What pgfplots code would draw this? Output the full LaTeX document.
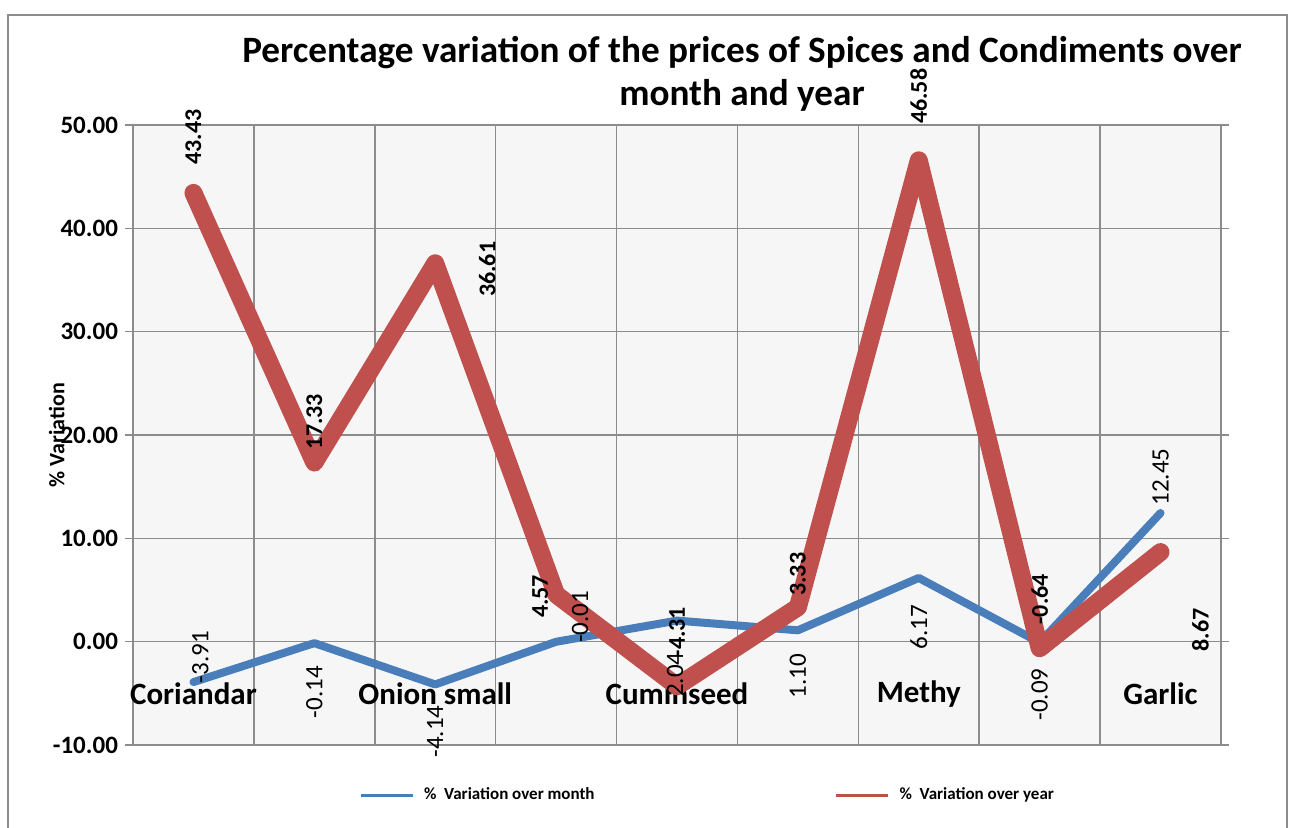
\documentclass[border=0pt]{standalone}
\usepackage{pgfplots}
\pgfplotsset{compat=1.18}
\usepackage{pgfplotstable}
\usepackage{fontspec}
\setmainfont{Carlito}
\definecolor{exblue}{HTML}{4A7EBB}
\definecolor{exred}{HTML}{C0504D}
\definecolor{gridgray}{HTML}{8C8C8C}

% dx, dy: offset of each value label from its point, in pt
\pgfplotstableread{
x y lab dx dy
0 -3.91 -3.91 3.5 12.5
1 -0.14 -0.14 0 -24.5
2 -4.14 -4.14 0 -23.5
3 -0.01 -0.01 12 12.5
4 2.04 2.04 -1 -27
5 1.10 1.10 0 -23
6 6.17 6.17 0 -24.5
7 -0.09 -0.09 0 -26
8 12.45 12.45 0 18
}\monthdata

\pgfplotstableread{
x y lab dx dy
0 43.43 43.43 0 28
1 17.33 17.33 0 20.5
2 36.61 36.61 26 -3
3 4.57 4.57 -8 -1
4 -4.31 -4.31 0 27
5 3.33 3.33 0 16.5
6 46.58 46.58 0 32
7 -0.64 -0.64 0 24.5
8 8.67 8.67 20 -39
}\yeardata

\begin{document}
\begin{tikzpicture}
\path[use as bounding box] (0,0) rectangle (645pt,413.5pt);
\fill[white] (0,0) rectangle (645pt,413.5pt);
\draw[gridgray, line width=0.8pt] (4pt,-10pt) rectangle (643.5pt,406pt);
\begin{axis}[
  at={(66.5pt,41pt)}, anchor=south west, scale only axis,
  width=544pt, height=310pt, clip=false,
  xmin=-0.5, xmax=8.5, ymin=-10, ymax=50,
  xtick={0,...,8},
  xticklabels={Coriandar,,Onion small,,Cuminseed,,Methy,,Garlic},
  minor xtick={-0.5,0.5,...,8.5},
  xminorgrids=true, xmajorgrids=false,
  ytick={-10,0,...,50}, ymajorgrids=true,
  grid style={gridgray, line width=0.75pt},
  minor grid style={gridgray, line width=0.75pt},
  axis line style={gridgray, line width=0.75pt},
  xtick style={draw=none},
  ytick style={gridgray, line width=0.75pt},
  tick align=outside, major tick length=4pt,
  axis background/.style={fill=gray!7},
  yticklabel={\pgfmathprintnumber[fixed,fixed zerofill,precision=2,assume math mode=true]{\tick}},
  yticklabel style={font=\bfseries\fontsize{12.5}{14}\selectfont},
  xticklabel style={font=\bfseries\fontsize{15.5}{18}\selectfont, anchor=center, yshift=29.5pt},
  ylabel={\% Variation},
  ylabel style={at={(axis description cs:-0.07,0.5)}, anchor=center, font=\bfseries\fontsize{11}{13}\selectfont},
  legend columns=2,
  legend style={at={(axis description cs:0.529,-0.081)}, anchor=center, draw=none, fill=none,
    font=\bfseries\fontsize{8.5}{9.5}\selectfont,
    /tikz/every odd column/.append style={column sep=3pt},
    /tikz/every even column/.append style={column sep=118pt}},
  legend image code/.code={\draw[#1, line width=1.5pt, line cap=butt] (0pt,0pt) -- (26pt,0pt);},
]
\addplot[exblue, line width=4pt, line join=round, line cap=round]
  table[x=x, y=y]{\monthdata};
\addlegendentry{\%\ \ Variation over month}
\addplot[exred, line width=9pt, line join=round, line cap=round]
  table[x=x, y=y]{\yeardata};
\addlegendentry{\%\ \ Variation over year}
% value labels
\addplot[draw=none, forget plot, nodes near coords, point meta=explicit symbolic,
  every node near coord/.append style={font=\fontsize{12.5}{14}\selectfont, text=black,
    anchor=center, rotate=90, inner sep=0pt}]
  table[x expr=\thisrow{x}+\thisrow{dx}/60.44, y expr=\thisrow{y}+\thisrow{dy}/5.1667, meta=lab]{\monthdata};
\addplot[draw=none, forget plot, nodes near coords, point meta=explicit symbolic,
  every node near coord/.append style={font=\bfseries\fontsize{12}{14}\selectfont, text=black,
    anchor=center, rotate=90, inner sep=0pt}]
  table[x expr=\thisrow{x}+\thisrow{dx}/60.44, y expr=\thisrow{y}+\thisrow{dy}/5.1667, meta=lab]{\yeardata};
\end{axis}
\node[font=\bfseries\fontsize{18.6}{21.5}\selectfont, align=center] at (371pt,376.5pt)
  {Percentage variation of the prices of Spices and Condiments over\\month and year};
\end{tikzpicture}
\end{document}
